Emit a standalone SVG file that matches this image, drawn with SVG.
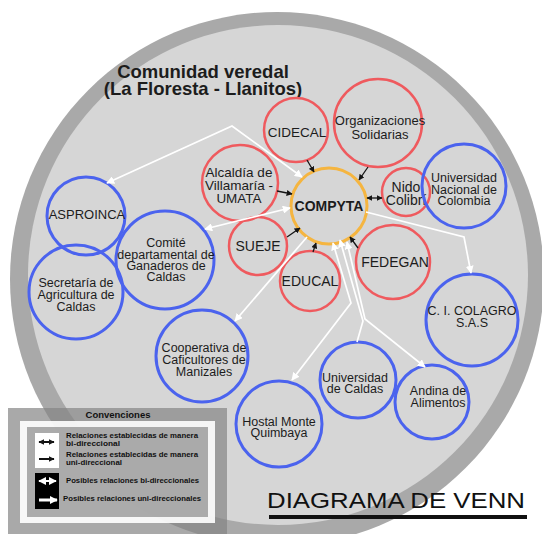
<svg xmlns="http://www.w3.org/2000/svg" width="542" height="534" viewBox="0 0 542 534">
<style>
.t{font-family:"Liberation Sans",Arial,sans-serif;fill:#1c1c1c;text-anchor:middle}
.r{fill:none;stroke:#ef5a5e;stroke-width:2.5}
.b{fill:none;stroke:#4b63ee;stroke-width:3}
.bk{fill:none;stroke:#151515;stroke-width:1.3}
.wh{fill:none;stroke:#ffffff;stroke-width:1.7}
.lg{font-family:"Liberation Sans",Arial,sans-serif;font-weight:bold;fill:#111;font-size:7.6px}
</style>
<defs>
<marker id="ab" viewBox="0 0 10 10" refX="9" refY="5" markerWidth="6" markerHeight="6" markerUnits="userSpaceOnUse" orient="auto-start-reverse"><path d="M0,0 L10,5 L0,10 z" fill="#151515"/></marker>
<marker id="aw" viewBox="0 0 10 10" refX="9" refY="5" markerWidth="8" markerHeight="8" markerUnits="userSpaceOnUse" orient="auto-start-reverse"><path d="M0,0 L10,5 L0,10 z" fill="#ffffff"/></marker>
</defs>
<rect width="542" height="534" fill="#ffffff"/>
<g id="venn-circle">
<circle cx="277" cy="279" r="267" fill="#a9a9a9"/>
<circle cx="278" cy="275" r="250" fill="#d6d6d6"/>
</g>
<g id="title">
<text class="t" x="203" y="78" font-size="18.5" font-weight="bold" fill="#111">Comunidad veredal</text>
<text class="t" x="203" y="94.5" font-size="18.5" font-weight="bold" fill="#111">(La Floresta - Llanitos)</text>
</g>
<g id="n-cidecal"><circle class="r" cx="296" cy="130" r="32"/><text class="t" x="297" y="137" font-size="13.5">CIDECAL</text></g>
<g id="n-organizaciones"><circle class="r" cx="378" cy="123" r="44" stroke-width="3"/><text class="t" x="380" y="125" font-size="13">Organizaciones</text><text class="t" x="380" y="139" font-size="13">Solidarias</text></g>
<g id="n-alcaldia"><circle class="r" cx="240" cy="183" r="38"/><text class="t" x="239" y="177" font-size="13.5">Alcaldía de</text><text class="t" x="239" y="190" font-size="13.5">Villamaría -</text><text class="t" x="239" y="203" font-size="13.5">UMATA</text></g>
<g id="n-compyta"><circle cx="329" cy="206" r="38" fill="none" stroke="#f5b540" stroke-width="3"/><text class="t" x="329" y="211" font-size="14" font-weight="bold" fill="#111">COMPYTA</text></g>
<g id="n-nido"><circle class="r" cx="406" cy="192" r="24" stroke-width="1.6"/><text class="t" x="406" y="192" font-size="14">Nido</text><text class="t" x="406" y="205" font-size="14">Colibrí</text></g>
<g id="n-unal"><circle class="b" cx="464" cy="186" r="42"/><text class="t" x="464" y="182" font-size="12.5">Universidad</text><text class="t" x="464" y="194" font-size="12.5">Nacional de</text><text class="t" x="464" y="205" font-size="12.5">Colombia</text></g>
<g id="n-sueje"><circle class="r" cx="258" cy="246" r="29" stroke-width="2"/><text class="t" x="258" y="251" font-size="14">SUEJE</text></g>
<g id="n-educal"><circle class="r" cx="310" cy="281" r="30" stroke-width="2"/><text class="t" x="310" y="286" font-size="14">EDUCAL</text></g>
<g id="n-fedegan"><circle class="r" cx="393" cy="262" r="37" stroke-width="3"/><text class="t" x="395" y="267" font-size="14">FEDEGAN</text></g>
<g id="n-asproinca"><circle class="b" cx="86" cy="216" r="39" stroke-width="2.5"/><text class="t" x="87" y="219" font-size="13">ASPROINCA</text></g>
<g id="n-secretaria"><circle class="b" cx="76" cy="292" r="47" stroke-width="3.5"/><text class="t" x="76" y="287" font-size="12.5">Secretaría de</text><text class="t" x="76" y="299" font-size="12.5">Agricultura de</text><text class="t" x="76" y="311" font-size="12.5">Caldas</text></g>
<g id="n-comite"><circle class="b" cx="165" cy="260" r="49" stroke-width="4"/><text class="t" x="166" y="247" font-size="12.5">Comité</text><text class="t" x="166" y="258.5" font-size="12.5">departamental de</text><text class="t" x="166" y="270" font-size="12.5">Ganaderos de</text><text class="t" x="166" y="281" font-size="12.5">Caldas</text></g>
<g id="n-cooperativa"><circle class="b" cx="202" cy="356" r="46"/><text class="t" x="204" y="352" font-size="12.5">Cooperativa de</text><text class="t" x="204" y="364" font-size="12.5">Caficultores de</text><text class="t" x="204" y="376" font-size="12.5">Manizales</text></g>
<g id="n-hostal"><circle class="b" cx="279" cy="424" r="43"/><text class="t" x="279" y="426" font-size="12.5">Hostal Monte</text><text class="t" x="279" y="437" font-size="12.5">Quimbaya</text></g>
<g id="n-ucaldas"><circle class="b" cx="358" cy="380" r="38"/><text class="t" x="355" y="382" font-size="12.5">Universidad</text><text class="t" x="355" y="393" font-size="12.5">de Caldas</text></g>
<g id="n-andina"><circle class="b" cx="432" cy="402" r="37"/><text class="t" x="438" y="395" font-size="12.5">Andina de</text><text class="t" x="438" y="407" font-size="12.5">Alimentos</text></g>
<g id="n-colagro"><circle class="b" cx="472" cy="320" r="46"/><text class="t" x="472" y="315" font-size="12.5">C. I. COLAGRO</text><text class="t" x="472" y="327" font-size="12.5">S.A.S</text></g>
<g id="connectors">
<line class="bk" x1="307" y1="160" x2="314" y2="172" marker-end="url(#ab)"/>
<line class="bk" x1="368" y1="167" x2="359" y2="180" marker-end="url(#ab)"/>
<line class="bk" x1="277" y1="191" x2="292" y2="194" marker-end="url(#ab)"/>
<line class="bk" x1="367" y1="198" x2="382" y2="198" stroke-width="2.4" marker-start="url(#ab)" marker-end="url(#ab)"/>
<line class="bk" x1="287" y1="237" x2="300" y2="228" marker-end="url(#ab)"/>
<line class="bk" x1="313" y1="252" x2="316" y2="243" marker-end="url(#ab)"/>
<line class="bk" x1="358" y1="248" x2="350" y2="237" marker-end="url(#ab)"/>
<polyline class="wh" points="107,183 232,126 302,177" marker-start="url(#aw)" marker-end="url(#aw)"/>
<line class="wh" x1="205" y1="229" x2="290" y2="208" marker-start="url(#aw)" marker-end="url(#aw)"/>
<line class="wh" x1="307" y1="237" x2="235" y2="321" marker-end="url(#aw)"/>
<polyline class="wh" points="333,243 351,303 292,380" marker-start="url(#aw)" marker-end="url(#aw)"/>
<polyline class="wh" points="357,342 363,321 340,240" marker-end="url(#aw)"/>
<polyline class="wh" points="347,242 365,319 425,367" marker-start="url(#aw)" marker-end="url(#aw)"/>
<polyline class="wh" points="366,212 464,237 471,273" marker-end="url(#aw)"/>
</g>
<g id="legend">
<rect x="8" y="408" width="219" height="126" fill="#858585" fill-opacity="0.7"/>
<text x="118" y="418" font-family="Liberation Sans, Arial, sans-serif" font-weight="bold" font-size="9.5" fill="#111" text-anchor="middle">Convenciones</text>
<rect x="20" y="421" width="195" height="102" fill="#ffffff" fill-opacity="0.9"/>
<rect x="27" y="427" width="181" height="90" fill="#8a8a8a" fill-opacity="0.7"/>
<rect x="35" y="433" width="24" height="35" fill="#ffffff"/>
<rect x="35" y="473" width="24" height="36" fill="#000000"/>
<line x1="39" y1="442" x2="54" y2="442" stroke="#111" stroke-width="2" marker-start="url(#ab)" marker-end="url(#ab)"/>
<line x1="39" y1="459" x2="54" y2="459" stroke="#111" stroke-width="2" marker-end="url(#ab)"/>
<line x1="39" y1="481" x2="56" y2="481" stroke="#fff" stroke-width="2" marker-start="url(#aw)" marker-end="url(#aw)"/>
<line x1="39" y1="500" x2="57" y2="500" stroke="#fff" stroke-width="3" marker-end="url(#aw)"/>
<text class="lg" x="66" y="438" textLength="132" lengthAdjust="spacingAndGlyphs">Relaciones establecidas de manera</text>
<text class="lg" x="66" y="445.5" textLength="54" lengthAdjust="spacingAndGlyphs">bi-direccional</text>
<text class="lg" x="66" y="457" textLength="132" lengthAdjust="spacingAndGlyphs">Relaciones establecidas de manera</text>
<text class="lg" x="66" y="464.5" textLength="56" lengthAdjust="spacingAndGlyphs">uni-direccional</text>
<text class="lg" x="66" y="483" textLength="133" lengthAdjust="spacingAndGlyphs">Posibles relaciones bi-direccionales</text>
<text class="lg" x="63" y="501" textLength="138" lengthAdjust="spacingAndGlyphs">Posibles relaciones uni-direccionales</text>
</g>
<g id="diagram-title">
<text x="267" y="508" font-family="Liberation Sans, Arial, sans-serif" font-size="22.5" fill="#111" textLength="258" lengthAdjust="spacingAndGlyphs">DIAGRAMA DE VENN</text>
<rect x="269" y="515" width="258" height="4" fill="#111"/>
</g>
</svg>
